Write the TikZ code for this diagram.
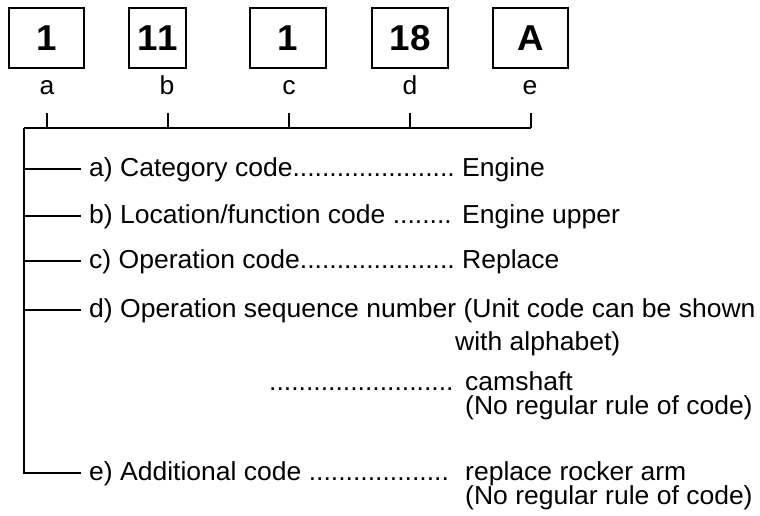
\documentclass[tikz,border=0pt]{standalone}
\usepackage{fontspec}
\setmainfont[FakeStretch=1.02,Kerning=Off]{Liberation Sans}
\begin{document}
\begin{tikzpicture}[x=1pt,y=-1pt,
  codebox/.style={draw,line width=1.6pt,minimum height=60pt,inner sep=0pt,font=\bfseries\fontsize{36}{36}\selectfont},
  letter/.style={anchor=base,inner sep=0pt,font=\fontsize{26}{26}\selectfont},
  txt/.style={anchor=base west,inner sep=0pt,font=\fontsize{26}{26}\selectfont},
  ln/.style={line width=1.6pt}]
\useasboundingbox (0,0) rectangle (760,516);
% code boxes
\node[codebox,minimum width=75pt] (ba) at (46.5,38) {1};
\node[codebox,minimum width=57pt] (bb) at (157.5,38) {11};
\node[codebox,minimum width=76pt] (bc) at (288,38) {1};
\node[codebox,minimum width=76pt] (bd) at (410,38) {18};
\node[codebox,minimum width=75pt] (be) at (530.5,38) {A};
% letters
\node[letter] (la) at (47,95) {a};
\node[letter] (lb) at (167,95) {b};
\node[letter] (lc) at (289,95) {c};
\node[letter] (ld) at (410,95) {d};
\node[letter] (le) at (530,95) {e};
% ticks and bar
\foreach \n/\x in {a/47,b/168,c/289,d/410,e/531}{
  \coordinate (t\n) at (\x,113);
  \coordinate (u\n) at (\x,128);
  \draw[ln] (t\n) -- (u\n);
}
\coordinate (corner) at (24,128);
\draw[ln] (corner) -- (ue);
% rows
\node[txt] (ra) at (89,176) {a) Category code......................};
\node[txt] (rb) at (89,223) {b) Location/function code ........};
\node[txt] (rc) at (89,268) {c) Operation code.....................};
\node[txt] (rd) at (89,317) {d) Operation sequence number (Unit code can be shown};
\node[txt] (re) at (89,480) {e) Additional code ...................};
\node[txt] (va) at (462,176) {Engine};
\node[txt] (vb) at (462,223) {Engine upper};
\node[txt] (vc) at (462,268) {Replace};
\node[txt] (vd) at (455,350) {with alphabet)};
\node[txt] (dd) at (269,390) {.........................};
\node[txt] (vd2) at (465,390) {camshaft};
\node[txt] (vd3) at (465,414) {(No regular rule of code)};
\node[txt] (ve) at (465,480) {replace rocker arm};
\node[txt] (ve2) at (465,504) {(No regular rule of code)};
% branches
\coordinate (bottom) at (24,473);
\draw[ln] (corner) -- (bottom) -- (81,473);
\foreach \y in {169,216,261,310}{
  \draw[ln] (24,\y) -- (81,\y);
}
\end{tikzpicture}
\end{document}
